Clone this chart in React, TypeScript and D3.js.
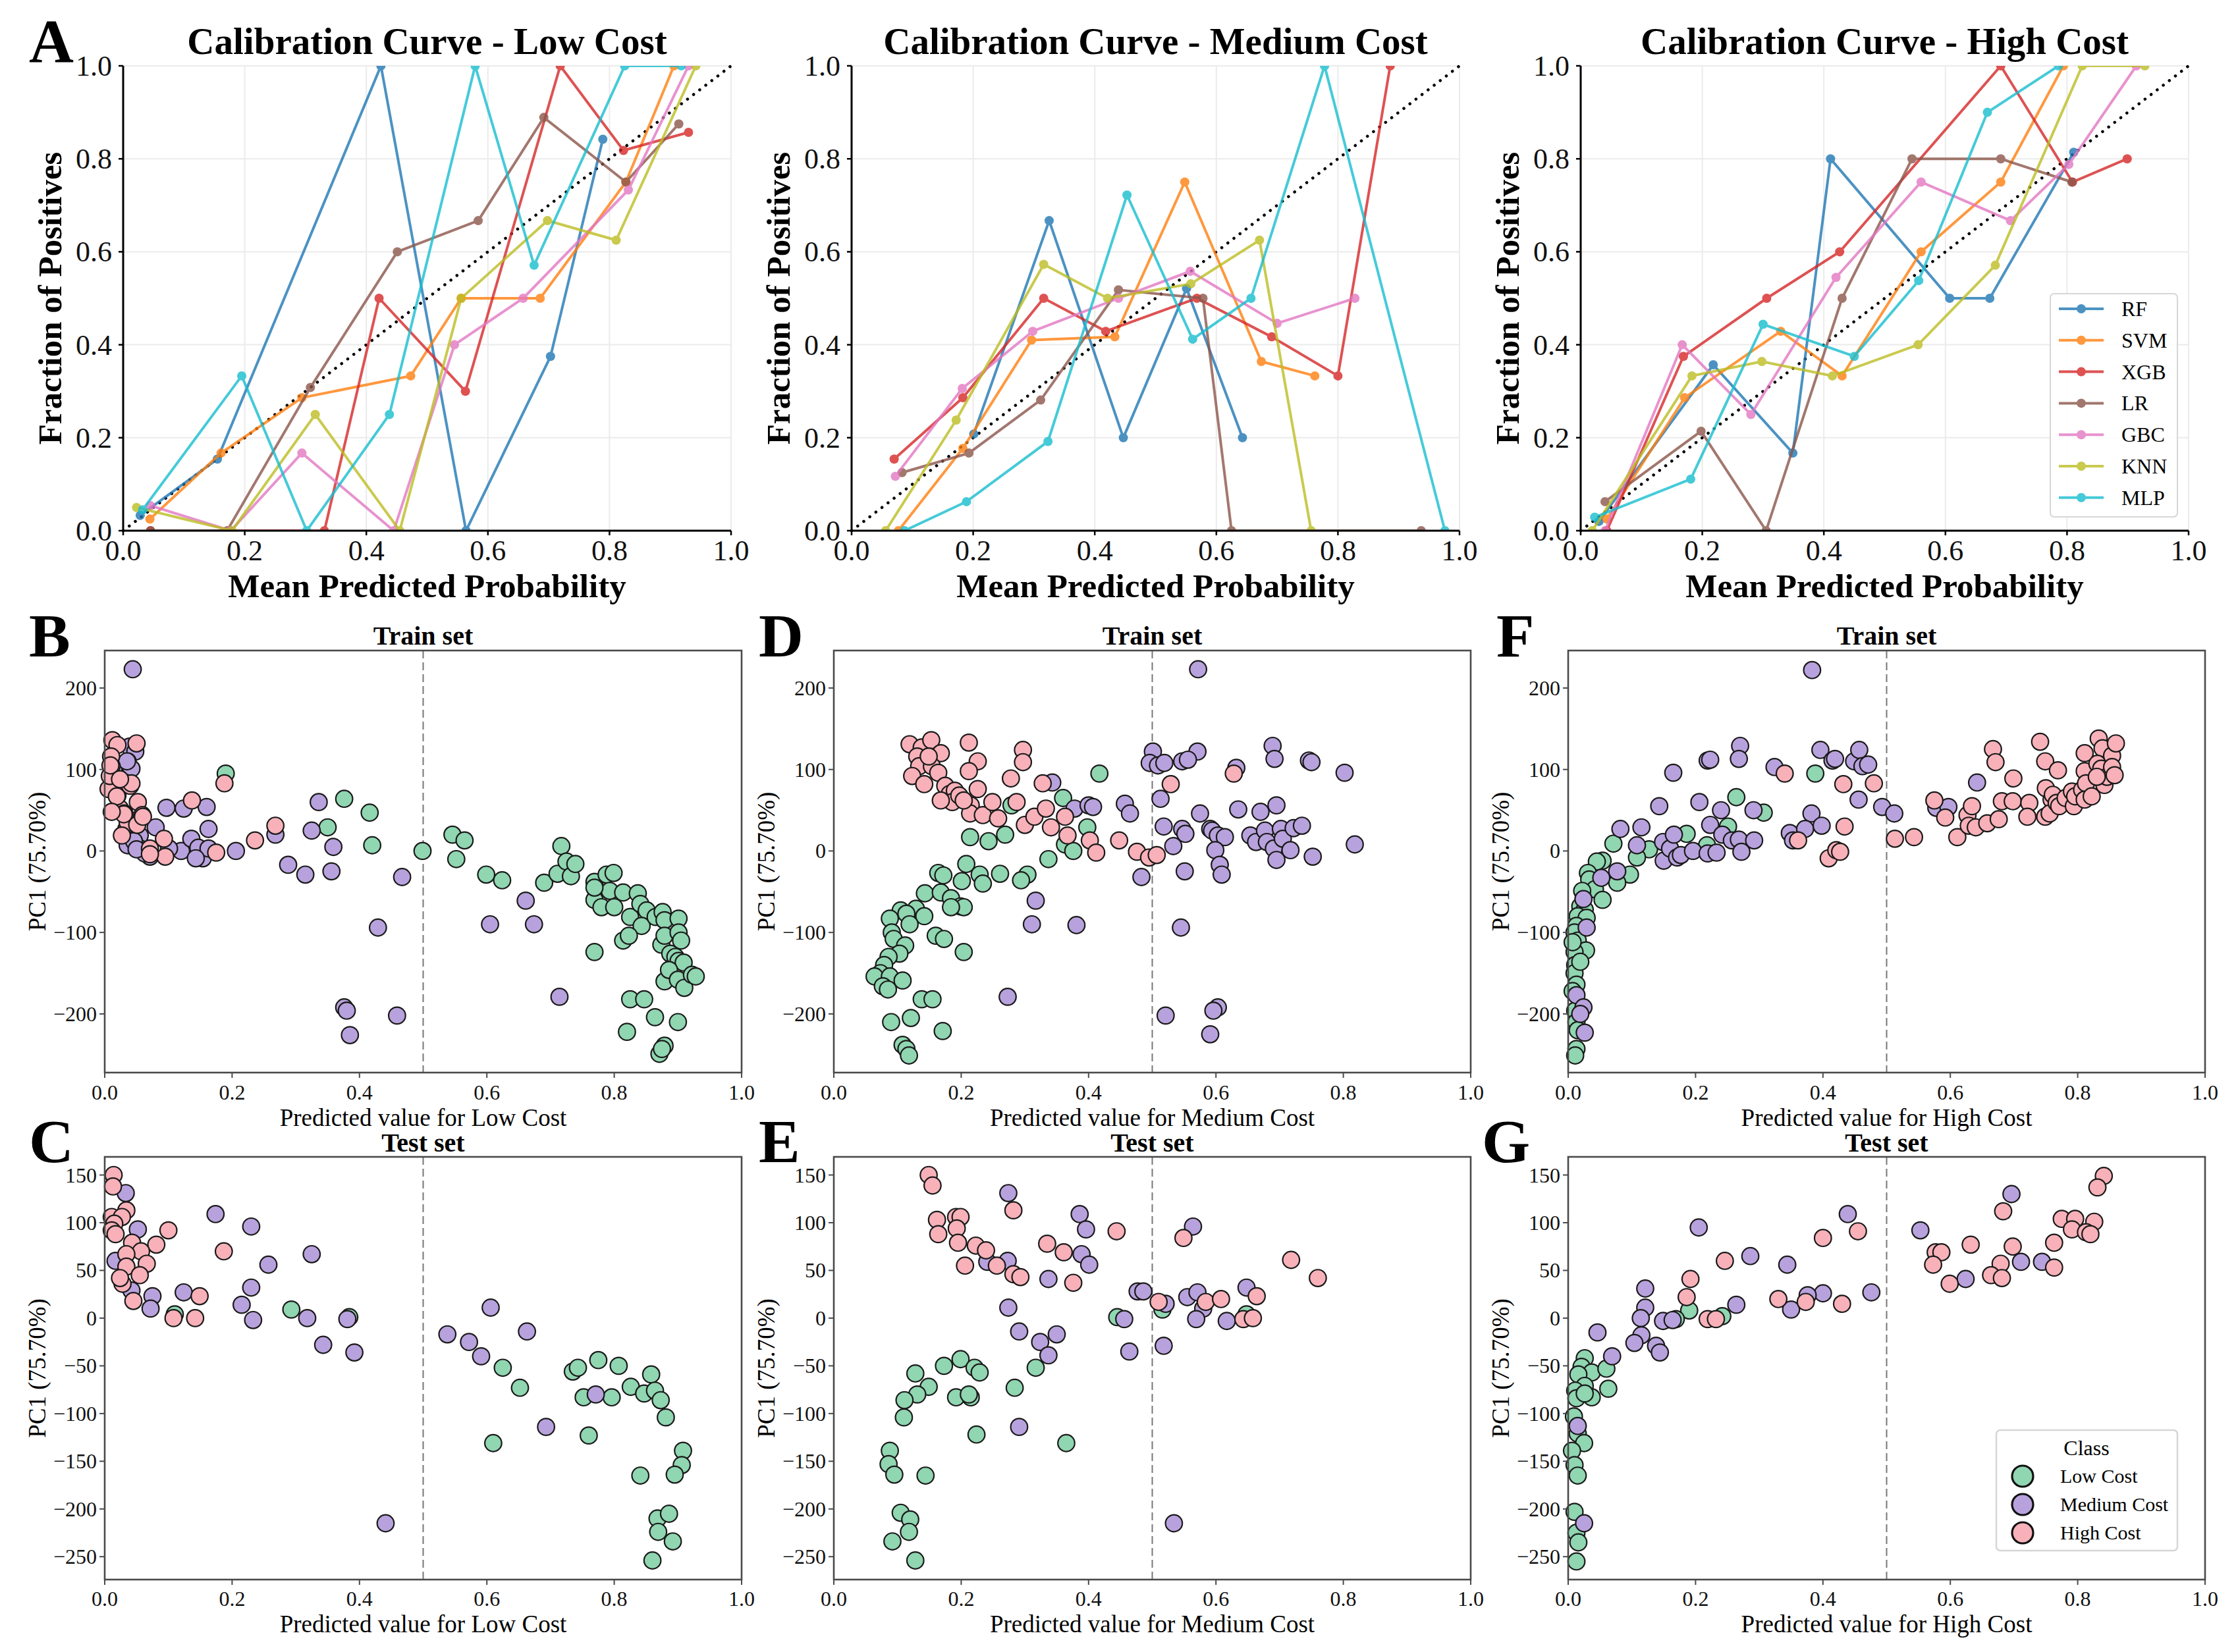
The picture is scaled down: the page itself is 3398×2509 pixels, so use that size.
import React from "react";
import * as d3 from "d3";

const FONT = "'Liberation Serif', 'Times New Roman', Times, serif";
const W = 3398;
const H = 2509;

// ---------- Calibration data ----------
const models = ["RF", "SVM", "XGB", "LR", "GBC", "KNN", "MLP"];
const modelColors = ["#1f77b4", "#ff7f0e", "#d62728", "#8c564b", "#e377c2", "#bcbd22", "#17becf"];
const calTicks = [0, 0.2, 0.4, 0.6, 0.8, 1.0];

// order: RF, SVM, XGB, LR, GBC, KNN, MLP
const calLow = [
  [[0.028, 0.033], [0.155, 0.154], [0.424, 1.0], [0.564, 0.0], [0.703, 0.375], [0.789, 0.842]],
  [[0.044, 0.025], [0.161, 0.167], [0.294, 0.286], [0.473, 0.333], [0.556, 0.5], [0.686, 0.5], [0.827, 0.75], [0.906, 1.0]],
  [[0.045, 0.0], [0.331, 0.0], [0.421, 0.5], [0.563, 0.3], [0.719, 1.0], [0.823, 0.818], [0.93, 0.857]],
  [[0.045, 0.0], [0.171, 0.0], [0.308, 0.308], [0.451, 0.6], [0.584, 0.667], [0.692, 0.889], [0.827, 0.75], [0.914, 0.875]],
  [[0.045, 0.054], [0.177, 0.0], [0.294, 0.167], [0.445, 0.0], [0.545, 0.4], [0.658, 0.5], [0.831, 0.733], [0.93, 1.0]],
  [[0.022, 0.05], [0.179, 0.0], [0.316, 0.25], [0.455, 0.0], [0.556, 0.5], [0.698, 0.667], [0.811, 0.625], [0.942, 1.0]],
  [[0.032, 0.045], [0.195, 0.333], [0.302, 0.0], [0.438, 0.25], [0.579, 1.0], [0.676, 0.571], [0.825, 1.0], [0.918, 1.0]],
];
const calMedium = [
  [[0.201, 0.208], [0.325, 0.667], [0.447, 0.2], [0.551, 0.521], [0.643, 0.2]],
  [[0.077, 0.0], [0.183, 0.177], [0.296, 0.41], [0.433, 0.417], [0.548, 0.75], [0.674, 0.364], [0.762, 0.333]],
  [[0.07, 0.154], [0.183, 0.286], [0.316, 0.5], [0.418, 0.429], [0.568, 0.5], [0.691, 0.417], [0.8, 0.333], [0.886, 1.0]],
  [[0.083, 0.125], [0.193, 0.167], [0.311, 0.281], [0.439, 0.518], [0.578, 0.5], [0.625, 0.0], [0.937, 0.0]],
  [[0.072, 0.117], [0.182, 0.306], [0.298, 0.429], [0.439, 0.5], [0.557, 0.558], [0.7, 0.446], [0.828, 0.5]],
  [[0.056, 0.0], [0.172, 0.238], [0.316, 0.573], [0.421, 0.5], [0.558, 0.531], [0.671, 0.625], [0.756, 0.0]],
  [[0.087, 0.0], [0.189, 0.0625], [0.323, 0.192], [0.453, 0.722], [0.561, 0.412], [0.657, 0.5], [0.778, 1.0], [0.976, 0.0]],
];
const calHigh = [
  [[0.03, 0.02], [0.218, 0.357], [0.349, 0.167], [0.411, 0.8], [0.607, 0.5], [0.673, 0.5], [0.811, 0.814]],
  [[0.043, 0.025], [0.171, 0.286], [0.329, 0.429], [0.43, 0.333], [0.56, 0.6], [0.691, 0.75], [0.794, 1.0]],
  [[0.043, 0.0], [0.169, 0.375], [0.306, 0.5], [0.426, 0.6], [0.691, 1.0], [0.809, 0.75], [0.899, 0.8]],
  [[0.04, 0.0625], [0.198, 0.214], [0.305, 0.0], [0.43, 0.5], [0.545, 0.8], [0.691, 0.8], [0.808, 0.75]],
  [[0.04, 0.0], [0.167, 0.4], [0.28, 0.25], [0.42, 0.545], [0.56, 0.75], [0.707, 0.667], [0.803, 0.788], [0.914, 1.0]],
  [[0.019, 0.0], [0.183, 0.333], [0.298, 0.364], [0.414, 0.333], [0.555, 0.4], [0.682, 0.571], [0.825, 1.0], [0.928, 1.0]],
  [[0.023, 0.029], [0.181, 0.111], [0.3, 0.444], [0.45, 0.375], [0.556, 0.538], [0.669, 0.9], [0.786, 1.0]],
];

// ---------- Scatter data ----------
const classNames = ["Low Cost", "Medium Cost", "High Cost"];
const classColors = ["#8fd6b1", "#b8a2dd", "#f8b1b9"];
const xTicksScatter = [0, 0.2, 0.4, 0.6, 0.8, 1.0];
const yTicksTrain = [-200, -100, 0, 100, 200];
const yTicksTest = [-250, -200, -150, -100, -50, 0, 50, 100, 150];

// Panel B: train, predicted Low Cost
const panelB_low = [
  [0.19, 95], [0.376, 64], [0.416, 47], [0.35, 29], [0.42, 7], [0.499, 0], [0.546, 20], [0.565, 13], [0.552, -10],
  [0.599, -29], [0.624, -36], [0.69, -39], [0.711, -28], [0.717, 6], [0.725, -13], [0.732, -31], [0.739, -16],
  [0.769, -38], [0.769, -60], [0.78, -69], [0.788, -29], [0.799, -27], [0.793, -49], [0.8, -69], [0.814, -51],
  [0.825, -81], [0.837, -52], [0.841, -65], [0.851, -73], [0.843, -92], [0.865, -81], [0.876, -75], [0.879, -85],
  [0.874, -115], [0.888, -126], [0.879, -160], [0.825, -182], [0.847, -182], [0.814, -110], [0.823, -104],
  [0.769, -124], [0.896, -130], [0.879, -104], [0.901, -135], [0.909, -137], [0.886, -146], [0.9, -158],
  [0.91, -168], [0.922, -152], [0.928, -154], [0.901, -83], [0.901, -100], [0.905, -110], [0.864, -204],
  [0.9, -210], [0.82, -222], [0.879, -239], [0.871, -249], [0.875, -243], [0.769, -45],
];
const panelB_medium = [
  [0.044, 223], [0.039, 128], [0.048, 122], [0.036, 110], [0.04, 100], [0.097, 53], [0.124, 52], [0.16, 54],
  [0.163, 27], [0.08, 29], [0.034, 27], [0.044, 13], [0.055, 19], [0.036, 7], [0.055, 3], [0.071, -7], [0.12, 0],
  [0.136, 15], [0.147, 4], [0.154, -9], [0.163, 3], [0.206, 0], [0.268, 20], [0.288, -17], [0.315, -29],
  [0.325, 25], [0.336, 60], [0.359, 5], [0.356, -25], [0.467, -32], [0.429, -94], [0.376, -192], [0.38, -196],
  [0.385, -226], [0.459, -202], [0.605, -90], [0.661, -61], [0.674, -90], [0.714, -179], [0.063, -3], [0.101, 3],
  [0.046, 12], [0.05, 2], [0.143, -9], [0.042, 101], [0.035, 110],
];
const panelB_high = [
  [0.012, 136], [0.02, 130], [0.05, 132], [0.011, 104], [0.017, 80], [0.02, 68], [0.031, 84], [0.04, 80],
  [0.024, 52], [0.031, 46], [0.052, 60], [0.059, 44], [0.036, 35], [0.006, 76], [0.008, 92], [0.01, 116],
  [0.137, 62], [0.093, 15], [0.095, -7], [0.175, -2], [0.188, 83], [0.236, 13], [0.268, 31], [0.071, 3], [0.027, 19],
  [0.019, 67], [0.03, 45], [0.051, 32], [0.011, 48], [0.042, 83], [0.009, 105], [0.024, 88], [0.06, 42], [0.071, -4],
];

// Panel C: test, predicted Low Cost
const panelC_low = [
  [0.11, 4], [0.293, 9], [0.384, 1], [0.625, -52], [0.652, -73], [0.61, -131], [0.735, -56], [0.743, -52],
  [0.775, -44], [0.807, -50], [0.752, -83], [0.796, -83], [0.826, -72], [0.847, -79], [0.858, -59], [0.864, -76],
  [0.873, -86], [0.881, -104], [0.76, -123], [0.841, -165], [0.908, -139], [0.906, -154], [0.895, -164],
  [0.868, -210], [0.886, -205], [0.869, -224], [0.892, -234], [0.86, -254],
];
const panelC_medium = [
  [0.033, 131], [0.052, 93], [0.174, 109], [0.23, 96], [0.325, 67], [0.257, 56], [0.017, 60], [0.042, 29],
  [0.075, 23], [0.124, 27], [0.072, 10], [0.215, 14], [0.23, 32], [0.233, -2], [0.318, 0], [0.343, -28],
  [0.381, -1], [0.392, -36], [0.441, -215], [0.538, -17], [0.572, -25], [0.591, -40], [0.606, 11], [0.663, -14],
  [0.693, -114], [0.771, -80],
];
const panelC_high = [
  [0.014, 150], [0.013, 138], [0.034, 113], [0.011, 106], [0.027, 106], [0.015, 99], [0.011, 92], [0.017, 88],
  [0.1, 92], [0.081, 77], [0.043, 79], [0.057, 70], [0.034, 67], [0.066, 57], [0.034, 54], [0.055, 45],
  [0.028, 36], [0.187, 70], [0.149, 23], [0.045, 18], [0.108, 0], [0.142, 0], [0.024, 42],
];

// Panel D: train, predicted Medium Cost
const panelD_low = [
  [0.417, 95], [0.36, 65], [0.279, 56], [0.269, 20], [0.243, 12], [0.214, 17], [0.398, 29], [0.363, 8], [0.376, 0],
  [0.337, -10], [0.208, -16], [0.229, -29], [0.234, -40], [0.261, -28], [0.304, -29], [0.294, -36], [0.201, -37],
  [0.164, -27], [0.172, -30], [0.143, -52], [0.168, -51], [0.184, -58], [0.199, -68], [0.204, -69], [0.184, -69],
  [0.105, -73], [0.129, -71], [0.142, -80], [0.114, -77], [0.088, -83], [0.091, -100], [0.094, -108], [0.119, -90],
  [0.16, -104], [0.173, -108], [0.204, -124], [0.112, -116], [0.103, -126], [0.086, -130], [0.079, -140],
  [0.073, -150], [0.064, -154], [0.088, -154], [0.108, -159], [0.077, -166], [0.085, -170], [0.138, -182],
  [0.155, -182], [0.121, -205], [0.09, -210], [0.171, -221], [0.108, -238], [0.114, -243], [0.118, -251],
];
const panelD_medium = [
  [0.572, 223], [0.501, 122], [0.571, 122], [0.496, 108], [0.509, 105], [0.519, 108], [0.547, 110], [0.556, 112],
  [0.632, 102], [0.689, 129], [0.692, 113], [0.746, 111], [0.75, 109], [0.802, 96], [0.343, 84], [0.378, 52],
  [0.4, 56], [0.407, 54], [0.457, 58], [0.465, 46], [0.513, 64], [0.575, 46], [0.635, 51], [0.67, 48], [0.695, 56],
  [0.518, 30], [0.533, 6], [0.547, 27], [0.552, 21], [0.591, 27], [0.594, 25], [0.603, 19], [0.614, 17], [0.599, 1],
  [0.606, -17], [0.609, -29], [0.551, -25], [0.483, -32], [0.654, 19], [0.663, 11], [0.677, 25], [0.68, 11],
  [0.691, 3], [0.695, -11], [0.702, 27], [0.705, 15], [0.717, 1], [0.722, 28], [0.735, 31], [0.752, -7],
  [0.818, 8], [0.317, -61], [0.311, -90], [0.381, -91], [0.545, -94], [0.273, -179], [0.521, -202], [0.603, -192],
  [0.596, -196], [0.591, -225],
];
const panelD_high = [
  [0.119, 131], [0.138, 127], [0.153, 136], [0.168, 120], [0.131, 116], [0.134, 104], [0.154, 104], [0.212, 133],
  [0.226, 110], [0.212, 98], [0.297, 124], [0.297, 109], [0.278, 89], [0.123, 92], [0.142, 82], [0.164, 96],
  [0.175, 80], [0.182, 70], [0.19, 74], [0.186, 60], [0.168, 62], [0.197, 68], [0.226, 76], [0.215, 56], [0.214, 46],
  [0.234, 44], [0.249, 60], [0.258, 40], [0.287, 60], [0.3, 32], [0.315, 42], [0.333, 52], [0.328, 83], [0.341, 29],
  [0.363, 42], [0.367, 19], [0.402, 13], [0.412, -2], [0.448, 13], [0.476, -1], [0.495, -8], [0.507, -5],
  [0.529, 82], [0.628, 95], [0.149, 116], [0.204, 62],
];

// Panel E: test, predicted Medium Cost
const panelE_low = [
  [0.445, 1], [0.516, 9], [0.648, 4], [0.199, -43], [0.173, -50], [0.221, -52], [0.229, -57], [0.128, -58],
  [0.149, -72], [0.131, -80], [0.111, -86], [0.11, -104], [0.192, -83], [0.215, -83], [0.317, -52], [0.284, -73],
  [0.224, -122], [0.365, -131], [0.088, -139], [0.086, -153], [0.095, -164], [0.144, -165], [0.105, -204],
  [0.12, -211], [0.118, -224], [0.092, -234], [0.128, -254], [0.212, -80],
];
const panelE_medium = [
  [0.274, 131], [0.386, 109], [0.396, 93], [0.564, 96], [0.273, 60], [0.241, 59], [0.389, 67], [0.401, 56],
  [0.337, 41], [0.477, 28], [0.486, 28], [0.274, 11], [0.291, -14], [0.324, -25], [0.35, -17], [0.337, -39],
  [0.456, -1], [0.464, -35], [0.518, -29], [0.521, 15], [0.555, 22], [0.571, 27], [0.58, 10], [0.569, -1],
  [0.617, -3], [0.648, 32], [0.291, -114], [0.534, -215],
];
const panelE_high = [
  [0.149, 150], [0.155, 139], [0.162, 103], [0.164, 88], [0.192, 106], [0.199, 106], [0.193, 94], [0.195, 79],
  [0.206, 55], [0.223, 76], [0.239, 71], [0.256, 55], [0.282, 113], [0.282, 46], [0.293, 43], [0.335, 78],
  [0.361, 69], [0.376, 37], [0.444, 91], [0.549, 84], [0.51, 17], [0.584, 17], [0.608, 20], [0.643, -1],
  [0.658, 0], [0.664, 23], [0.718, 61], [0.76, 42],
];

// Panel F: train, predicted High Cost
const panelF_low = [
  [0.264, 66], [0.307, 47], [0.388, 95], [0.186, 21], [0.251, 30], [0.218, 7], [0.127, 2], [0.071, 9], [0.108, -8],
  [0.097, -29], [0.077, -39], [0.054, -12], [0.045, -13], [0.031, -27], [0.033, -35], [0.042, -47], [0.022, -49],
  [0.054, -60], [0.019, -68], [0.026, -72], [0.015, -80], [0.029, -82], [0.013, -92], [0.01, -100], [0.015, -110],
  [0.028, -122], [0.01, -124], [0.011, -140], [0.01, -150], [0.013, -164], [0.007, -172], [0.011, -196],
  [0.013, -210], [0.015, -220], [0.013, -243], [0.011, -251], [0.007, -112], [0.019, -136],
];
const panelF_medium = [
  [0.383, 222], [0.27, 129], [0.268, 113], [0.219, 111], [0.223, 112], [0.165, 96], [0.143, 55], [0.206, 60],
  [0.324, 103], [0.396, 124], [0.415, 111], [0.419, 113], [0.449, 110], [0.457, 124], [0.462, 104], [0.471, 106],
  [0.456, 63], [0.493, 54], [0.512, 46], [0.382, 46], [0.24, 50], [0.291, 50], [0.223, 32], [0.082, 27],
  [0.115, 29], [0.108, 7], [0.149, 11], [0.15, -12], [0.16, 3], [0.171, -8], [0.177, -5], [0.196, 0], [0.219, -3],
  [0.233, -2], [0.242, 20], [0.257, 13], [0.268, 14], [0.272, -1], [0.292, 13], [0.166, 20], [0.348, 22],
  [0.353, 13], [0.372, 27], [0.398, 31], [0.578, 53], [0.597, 54], [0.642, 84], [0.077, -25], [0.052, -33],
  [0.024, -59], [0.029, -94], [0.013, -177], [0.024, -192], [0.019, -200], [0.026, -223],
];
const panelF_high = [
  [0.34, 95], [0.432, 82], [0.48, 83], [0.434, 30], [0.361, 13], [0.409, -9], [0.421, 1], [0.427, -1], [0.513, 15],
  [0.543, 17], [0.575, 62], [0.592, 41], [0.611, 17], [0.627, 44], [0.634, 55], [0.629, 31], [0.64, 29], [0.658, 34],
  [0.676, 39], [0.667, 125], [0.671, 109], [0.699, 89], [0.681, 61], [0.698, 61], [0.724, 59], [0.721, 42],
  [0.741, 134], [0.749, 110], [0.769, 99], [0.75, 77], [0.759, 63], [0.761, 69], [0.749, 42], [0.756, 46],
  [0.767, 59], [0.771, 55], [0.781, 65], [0.791, 73], [0.794, 55], [0.796, 67], [0.807, 75], [0.811, 120],
  [0.811, 98], [0.813, 83], [0.811, 63], [0.822, 67], [0.833, 138], [0.839, 126], [0.831, 107], [0.837, 101],
  [0.842, 81], [0.846, 91], [0.854, 117], [0.854, 103], [0.86, 132], [0.858, 93], [0.83, 91],
];

// Panel G: test, predicted High Cost
const panelG_low = [
  [0.19, 8], [0.242, 2], [0.169, -1], [0.026, -42], [0.021, -51], [0.037, -57], [0.06, -53], [0.016, -59],
  [0.026, -71], [0.063, -74], [0.037, -83], [0.011, -76], [0.013, -84], [0.009, -103], [0.015, -121], [0.025, -131],
  [0.006, -139], [0.01, -154], [0.015, -165], [0.01, -203], [0.013, -225], [0.016, -235], [0.013, -255], [0.026, -79],
];
const panelG_medium = [
  [0.696, 130], [0.439, 109], [0.205, 95], [0.553, 92], [0.286, 65], [0.344, 56], [0.711, 59], [0.744, 59],
  [0.624, 41], [0.121, 31], [0.476, 27], [0.4, 26], [0.376, 24], [0.264, 14], [0.35, 9], [0.121, 11], [0.114, 0],
  [0.149, -3], [0.164, -2], [0.046, -15], [0.115, -18], [0.104, -26], [0.138, -29], [0.144, -36], [0.069, -40],
  [0.015, -113], [0.025, -215],
];
const panelG_high = [
  [0.841, 149], [0.831, 137], [0.683, 112], [0.775, 104], [0.796, 104], [0.826, 101], [0.791, 93], [0.813, 90],
  [0.82, 88], [0.455, 91], [0.4, 84], [0.632, 77], [0.698, 75], [0.763, 79], [0.577, 69], [0.586, 69], [0.573, 56],
  [0.679, 57], [0.763, 53], [0.664, 45], [0.681, 42], [0.599, 36], [0.246, 60], [0.192, 41], [0.186, 22],
  [0.33, 20], [0.373, 17], [0.43, 15], [0.219, -1], [0.232, -1],
];

// ---------- Layout ----------
const CAL_W = 923;
const CAL_TOP = 100;
const CAL_BOTTOM = 806;
const SC_W = 967;
const TRAIN_TOP = 988;
const TRAIN_BOTTOM = 1629;
const TEST_TOP = 1757;
const TEST_BOTTOM = 2399;
const colLefts = [187, 1293, 2400];
const scLefts = [159, 1266, 2381];
const trainLetterXs = [44, 1152, 2272];
const testLetterXs = [44, 1152, 2250];

type Pt = number[];

function CalPanel(props: { left: number; title: string; curves: Pt[][]; letter?: string; legend?: boolean; id: string }) {
  const { left, title, curves, letter, legend, id } = props;
  const x = d3.scaleLinear().domain([0, 1]).range([left, left + CAL_W]);
  const y = d3.scaleLinear().domain([0, 1]).range([CAL_BOTTOM, CAL_TOP]);
  const line = d3.line<Pt>().x((d) => x(d[0])).y((d) => y(d[1]));
  const fmt = d3.format(".1f");
  const lgX = left + 713;
  const lgY = 446;
  return (
    <g>
      <defs>
        <clipPath id={id}>
          <rect x={left} y={CAL_TOP} width={CAL_W} height={CAL_BOTTOM - CAL_TOP} />
        </clipPath>
      </defs>
      {calTicks.map((t) => (
        <g key={"g" + t}>
          <line x1={x(t)} x2={x(t)} y1={CAL_TOP} y2={CAL_BOTTOM} stroke="#ebebeb" strokeWidth={2} />
          <line x1={left} x2={left + CAL_W} y1={y(t)} y2={y(t)} stroke="#ebebeb" strokeWidth={2} />
        </g>
      ))}
      <line x1={x(0)} y1={y(0)} x2={x(1)} y2={y(1)} stroke="#000" strokeWidth={4.5}
        strokeDasharray="0.1 11.5" strokeLinecap="round" />
      <g clipPath={`url(#${id})`}>
        {curves.map((c, i) => (
          <g key={models[i]} opacity={0.8}>
            <path d={line(c) || ""} fill="none" stroke={modelColors[i]} strokeWidth={4} />
            {c.map((p, j) => (
              <circle key={j} cx={x(p[0])} cy={y(p[1])} r={7} fill={modelColors[i]} />
            ))}
          </g>
        ))}
      </g>
      <line x1={left} x2={left} y1={CAL_TOP} y2={CAL_BOTTOM + 1.5} stroke="#000" strokeWidth={3} />
      <line x1={left - 1.5} x2={left + CAL_W} y1={CAL_BOTTOM} y2={CAL_BOTTOM} stroke="#000" strokeWidth={3} />
      {calTicks.map((t) => (
        <g key={"t" + t} fontSize={44} fill="#111">
          <line x1={x(t)} x2={x(t)} y1={CAL_BOTTOM} y2={CAL_BOTTOM + 7} stroke="#000" strokeWidth={2.5} />
          <line x1={left - 7} x2={left} y1={y(t)} y2={y(t)} stroke="#000" strokeWidth={2.5} />
          <text x={x(t)} y={CAL_BOTTOM + 45} textAnchor="middle">{fmt(t)}</text>
          <text x={left - 17} y={y(t) + 15} textAnchor="end">{fmt(t)}</text>
        </g>
      ))}
      <text x={left + CAL_W / 2} y={82} textAnchor="middle" fontSize={57} fontWeight="bold">{title}</text>
      <text x={left + CAL_W / 2} y={907} textAnchor="middle" fontSize={51} fontWeight="bold">Mean Predicted Probability</text>
      <text transform={`translate(${left - 94},${(CAL_TOP + CAL_BOTTOM) / 2}) rotate(-90)`} textAnchor="middle"
        fontSize={51} fontWeight="bold">Fraction of Positives</text>
      {letter && <text x={44} y={94} fontSize={94} fontWeight="bold">{letter}</text>}
      {legend && (
        <g>
          <rect x={lgX} y={lgY} width={193} height={339} rx={6} fill="#fff" fillOpacity={0.85} stroke="#d6d6d6" strokeWidth={2} />
          {models.map((m, i) => {
            const yy = lgY + 23 + i * 47.8;
            return (
              <g key={m}>
                <g opacity={0.8}>
                  <line x1={lgX + 13} x2={lgX + 81} y1={yy} y2={yy} stroke={modelColors[i]} strokeWidth={4} />
                  <circle cx={lgX + 47} cy={yy} r={7} fill={modelColors[i]} />
                </g>
                <text x={lgX + 108} y={yy + 11} fontSize={32}>{m}</text>
              </g>
            );
          })}
        </g>
      )}
    </g>
  );
}

function ScatterPanel(props: {
  left: number; top: number; bottom: number; yDomain: number[]; yTicks: number[];
  title: string; xLabel: string; classes: Pt[][]; letter: string; letterX: number; letterY: number;
  titleY: number; tickY: number; labelY: number; legend?: boolean;
}) {
  const { left, top, bottom, yDomain, yTicks, title, xLabel, classes, letter, letterX, letterY, titleY, tickY, labelY, legend } = props;
  const x = d3.scaleLinear().domain([0, 1]).range([left, left + SC_W]);
  const y = d3.scaleLinear().domain(yDomain).range([bottom, top]);
  const fx = d3.format(".1f");
  const fy = d3.format("d");
  const axisColor = "#4a4a4a";
  const lgX = 3031;
  const lgY = 2172;
  return (
    <g>
      <line x1={x(0.5)} x2={x(0.5)} y1={top} y2={bottom} stroke="#777" strokeWidth={2} strokeDasharray="12 6" />
      {classes.map((pts, ci) => (
        <g key={ci}>
          {pts.map((p, j) => (
            <circle key={j} cx={x(p[0])} cy={y(p[1])} r={12.8} fill={classColors[ci]} stroke="#1a1a1a" strokeWidth={2.2} />
          ))}
        </g>
      ))}
      <rect x={left} y={top} width={SC_W} height={bottom - top} fill="none" stroke={axisColor} strokeWidth={2.6} />
      {xTicksScatter.map((t) => (
        <g key={"x" + t}>
          <line x1={x(t)} x2={x(t)} y1={bottom} y2={bottom + 8} stroke={axisColor} strokeWidth={2} />
          <text x={x(t)} y={tickY} textAnchor="middle" fontSize={32} fill="#111">{fx(t)}</text>
        </g>
      ))}
      {yTicks.map((t) => (
        <g key={"y" + t}>
          <line x1={left - 8} x2={left} y1={y(t)} y2={y(t)} stroke={axisColor} strokeWidth={2} />
          <text x={left - 12} y={y(t) + 11} textAnchor="end" fontSize={32} fill="#111">{fy(t)}</text>
        </g>
      ))}
      <text x={left + SC_W / 2} y={titleY} textAnchor="middle" fontSize={40} fontWeight="bold">{title}</text>
      <text x={left + SC_W / 2} y={labelY} textAnchor="middle" fontSize={37}>{xLabel}</text>
      <text transform={`translate(${left - 90},${(top + bottom) / 2}) rotate(-90)`} textAnchor="middle" fontSize={37}>PC1 (75.70%)</text>
      <text x={letterX} y={letterY} fontSize={94} fontWeight="bold">{letter}</text>
      {legend && (
        <g>
          <rect x={lgX} y={lgY} width={275} height={183} rx={6} fill="#fff" fillOpacity={0.85} stroke="#d6d6d6" strokeWidth={2.5} />
          <text x={lgX + 137} y={lgY + 38} textAnchor="middle" fontSize={32}>Class</text>
          {classNames.map((c, i) => {
            const yy = lgY + 70 + i * 43;
            return (
              <g key={c}>
                <circle cx={lgX + 40} cy={yy} r={16} fill={classColors[i]} stroke="#111" strokeWidth={3.2} />
                <text x={lgX + 97} y={yy + 10} fontSize={30}>{c}</text>
              </g>
            );
          })}
        </g>
      )}
    </g>
  );
}

const calTitles = ["Calibration Curve - Low Cost", "Calibration Curve - Medium Cost", "Calibration Curve - High Cost"];
const calData = [calLow, calMedium, calHigh];
const predLabels = ["Predicted value for Low Cost", "Predicted value for Medium Cost", "Predicted value for High Cost"];
const trainSets = [
  [panelB_low, panelB_medium, panelB_high],
  [panelD_low, panelD_medium, panelD_high],
  [panelF_low, panelF_medium, panelF_high],
];
const testSets = [
  [panelC_low, panelC_medium, panelC_high],
  [panelE_low, panelE_medium, panelE_high],
  [panelG_low, panelG_medium, panelG_high],
];
const trainLetters = ["B", "D", "F"];
const testLetters = ["C", "E", "G"];

export default function App() {
  return (
    <svg width={W} height={H} viewBox={`0 0 ${W} ${H}`}
      style={{ position: "absolute", left: 0, top: 0, display: "block", background: "#fff" }}
      fontFamily={FONT}>
      <rect x={0} y={0} width={W} height={H} fill="#fff" />
      {calData.map((cd, i) => (
        <CalPanel key={"cal" + i} id={"calclip" + i} left={colLefts[i]} title={calTitles[i]} curves={cd}
          letter={i === 0 ? "A" : undefined} legend={i === 2} />
      ))}
      {trainSets.map((cls, i) => (
        <ScatterPanel key={"tr" + i} left={scLefts[i]} top={TRAIN_TOP} bottom={TRAIN_BOTTOM} yDomain={[-272, 246]}
          yTicks={yTicksTrain} title="Train set" xLabel={predLabels[i]} classes={cls} letter={trainLetters[i]}
          letterX={trainLetterXs[i]} letterY={997} titleY={979} tickY={1670} labelY={1710} />
      ))}
      {testSets.map((cls, i) => (
        <ScatterPanel key={"te" + i} left={scLefts[i]} top={TEST_TOP} bottom={TEST_BOTTOM} yDomain={[-274, 169]}
          yTicks={yTicksTest} title="Test set" xLabel={predLabels[i]} classes={cls} letter={testLetters[i]}
          letterX={testLetterXs[i]} letterY={1765} titleY={1749} tickY={2439} labelY={2479} legend={i === 2} />
      ))}
    </svg>
  );
}
